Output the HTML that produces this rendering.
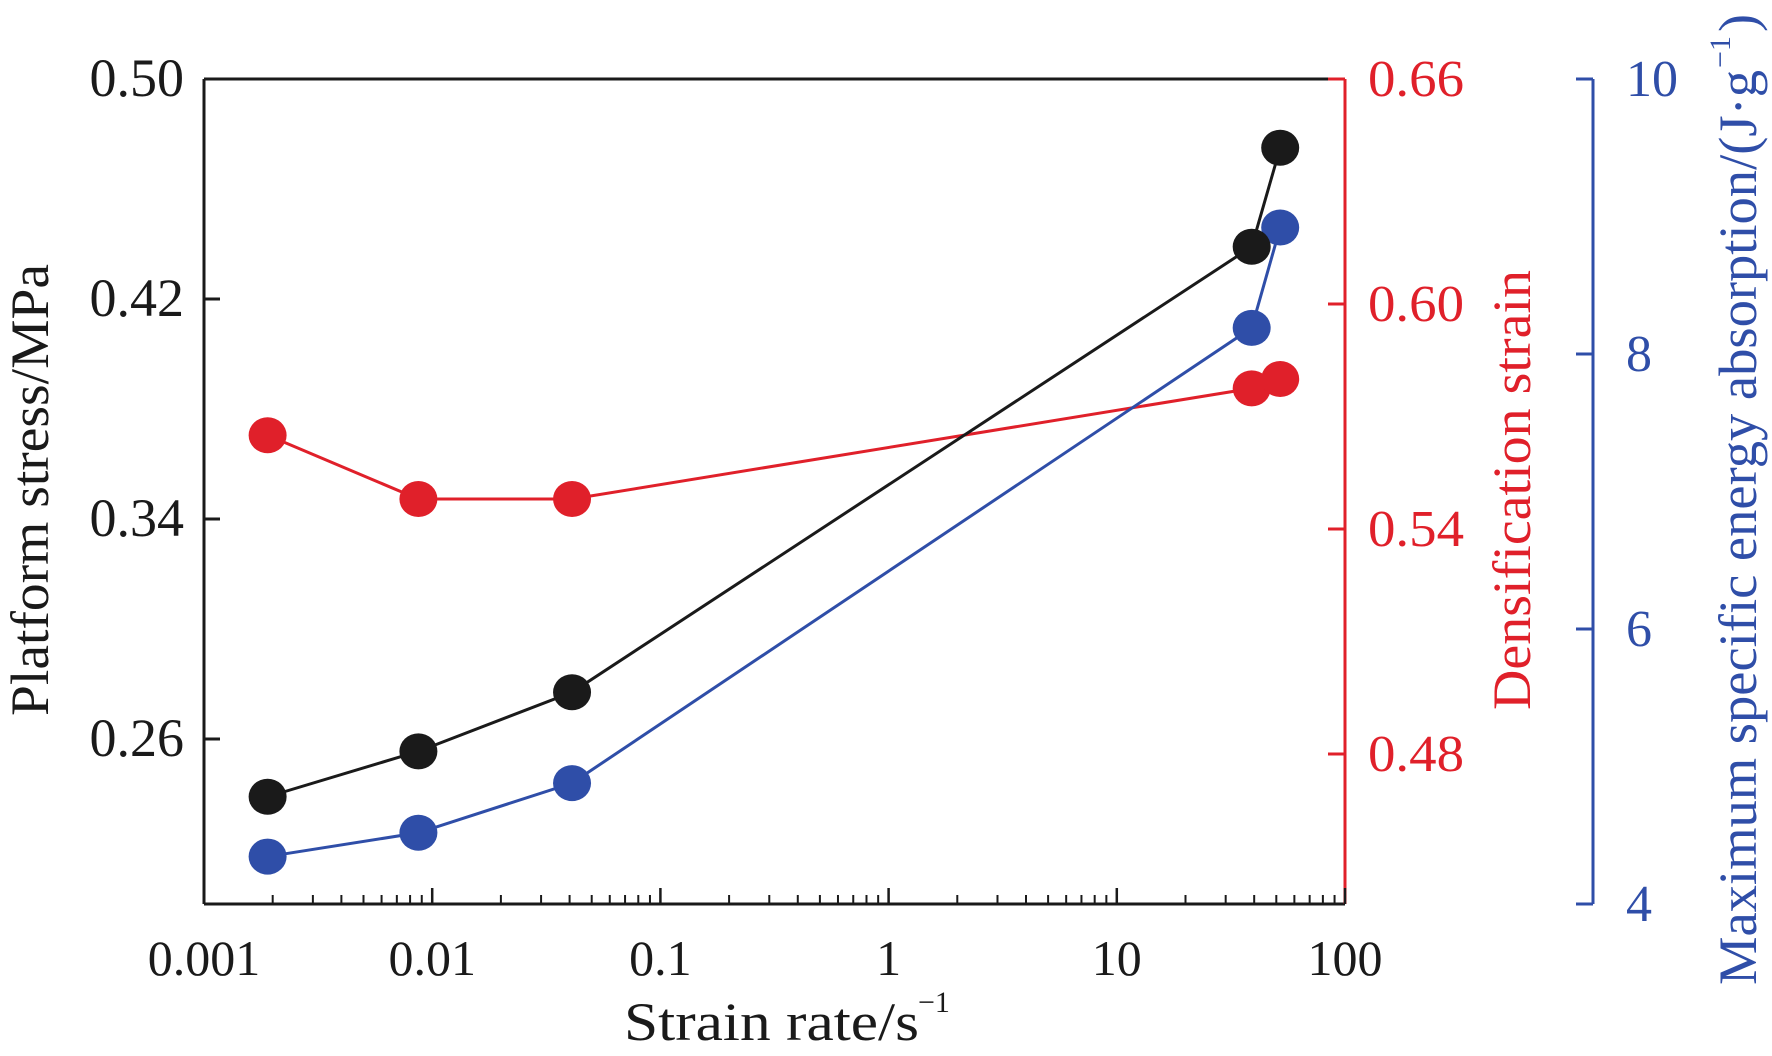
<!DOCTYPE html>
<html><head><meta charset="utf-8"><style>body{margin:0;background:#fff}svg{display:block}svg text{font-family:"Liberation Serif",serif}</style></head>
<body>
<svg id="chart" width="1772" height="1056" xmlns="http://www.w3.org/2000/svg"></svg>
<script>
const strainRates=[0.0019,0.0087,0.041,39,52];
const platformStress=[0.239,0.2555,0.277,0.439,0.475];
const densificationStrain=[0.565,0.548,0.548,0.5775,0.580];
const energyAbsorption=[4.345,4.518,4.879,8.19,8.92];
const xTicks=[0.001,0.01,0.1,1,10,100];
const xTickLabels=["0.001","0.01","0.1","1","10","100"];
const leftTicks=[0.26,0.34,0.42,0.50];
const leftTickLabels=["0.26","0.34","0.42","0.50"];
const redTicks=[0.48,0.54,0.60,0.66];
const redTickLabels=["0.48","0.54","0.60","0.66"];
const blueTicks=[4,6,8,10];
const blueTickLabels=["4","6","8","10"];

const NS="http://www.w3.org/2000/svg";
const svg=document.getElementById('chart');
const L=204,R=1345,T=79,B=904,BLUEX=1593;
const RED="#e0202a",BLUE="#2f4ea8",BLK="#1a1a1a";
const xs=v=>L+(Math.log10(v)+3)/5*(R-L);
const yl=v=>B-(v-0.20)/0.30*(B-T);
const yr=v=>B-(v-0.44)/0.22*(B-T);
const yb=v=>B-(v-4)/6*(B-T);
function el(tag,attrs,name,inter){const e=document.createElementNS(NS,tag);for(const k in attrs)e.setAttribute(k,attrs[k]);


svg.appendChild(e);return e;}
function txt(s,attrs,name){const e=el('text',attrs,name,false);e.textContent=s;return e;}

el('line',{x1:L,y1:B,x2:R,y2:B,stroke:BLK,'stroke-width':3},'x-axis-line');
el('line',{x1:L,y1:T,x2:L,y2:B,stroke:BLK,'stroke-width':3},'left-y-axis-line');
el('line',{x1:L,y1:T,x2:R,y2:T,stroke:BLK,'stroke-width':3},'top-frame-line');
el('line',{x1:R,y1:T,x2:R,y2:B,stroke:RED,'stroke-width':3},'red-y-axis-line');
el('line',{x1:BLUEX,y1:T,x2:BLUEX,y2:B,stroke:BLUE,'stroke-width':3},'blue-y-axis-line');

xTicks.forEach((t,i)=>{const x=xs(t);
 el('line',{x1:x,y1:B,x2:x,y2:B-16,stroke:BLK,'stroke-width':2.5},'x-major-tick');
 txt(xTickLabels[i],{x:x,y:975,'text-anchor':'middle','font-size':50,fill:BLK},'x-tick-label');
 if(i<xTicks.length-1){for(let m=2;m<=9;m++){const xm=xs(t*m);
  el('line',{x1:xm,y1:B,x2:xm,y2:B-9,stroke:BLK,'stroke-width':2},'x-minor-tick');}}
});
leftTicks.forEach((t,i)=>{const y=yl(t);
 el('line',{x1:L,y1:y,x2:L+16,y2:y,stroke:BLK,'stroke-width':3},'left-y-tick');
 txt(leftTickLabels[i],{x:184,y:y+17,'text-anchor':'end','font-size':54,fill:BLK},'left-y-tick-label');});
redTicks.forEach((t,i)=>{const y=yr(t);
 el('line',{x1:R,y1:y,x2:R-17,y2:y,stroke:RED,'stroke-width':3},'red-y-tick');
 txt(redTickLabels[i],{x:1368,y:y+17,'font-size':52,fill:RED,textLength:96,lengthAdjust:'spacingAndGlyphs'},'red-y-tick-label');});
blueTicks.forEach((t,i)=>{const y=yb(t);
 el('line',{x1:BLUEX,y1:y,x2:BLUEX-17,y2:y,stroke:BLUE,'stroke-width':3},'blue-y-tick');
 txt(blueTickLabels[i],{x:1626,y:y+17,'font-size':52,fill:BLUE},'blue-y-tick-label');});

txt('Platform stress/MPa',{transform:'translate(48,490) rotate(-90)','text-anchor':'middle','font-size':54,fill:BLK,textLength:452,lengthAdjust:'spacingAndGlyphs'},'left-y-axis-title');
txt('Strain rate/s',{x:624,y:1040,'font-size':54,fill:BLK,textLength:295,lengthAdjust:'spacingAndGlyphs'},'x-axis-title');
txt('−1',{x:918,y:1012,'font-size':30,fill:BLK},'x-axis-title-superscript');
txt('Densification strain',{transform:'translate(1530,490) rotate(-90)','text-anchor':'middle','font-size':54,fill:RED,textLength:440,lengthAdjust:'spacingAndGlyphs'},'red-y-axis-title');
txt('Maximum specific energy absorption/(J·g',{transform:'translate(1756,985) rotate(-90)','font-size':54,fill:BLUE,textLength:915,lengthAdjust:'spacingAndGlyphs'},'blue-y-axis-title');
txt('−1',{transform:'translate(1730,68) rotate(-90)','font-size':30,fill:BLUE},'blue-y-axis-title-superscript');
txt(')',{transform:'translate(1756,32) rotate(-90)','font-size':54,fill:BLUE},'blue-y-axis-title-paren');

function series(vals,yf,color,name){
 const pts=strainRates.map((r,i)=>xs(r)+','+yf(vals[i])).join(' ');
 el('polyline',{points:pts,fill:'none',stroke:color,'stroke-width':3},name+'-line');
 strainRates.forEach((r,i)=>{
  el('ellipse',{cx:xs(r),cy:yf(vals[i]),rx:19,ry:18,fill:color},name+'-point');});
}
series(densificationStrain,yr,RED,'densification-strain');
series(energyAbsorption,yb,BLUE,'energy-absorption');
series(platformStress,yl,BLK,'platform-stress');
</script>
</body></html>
